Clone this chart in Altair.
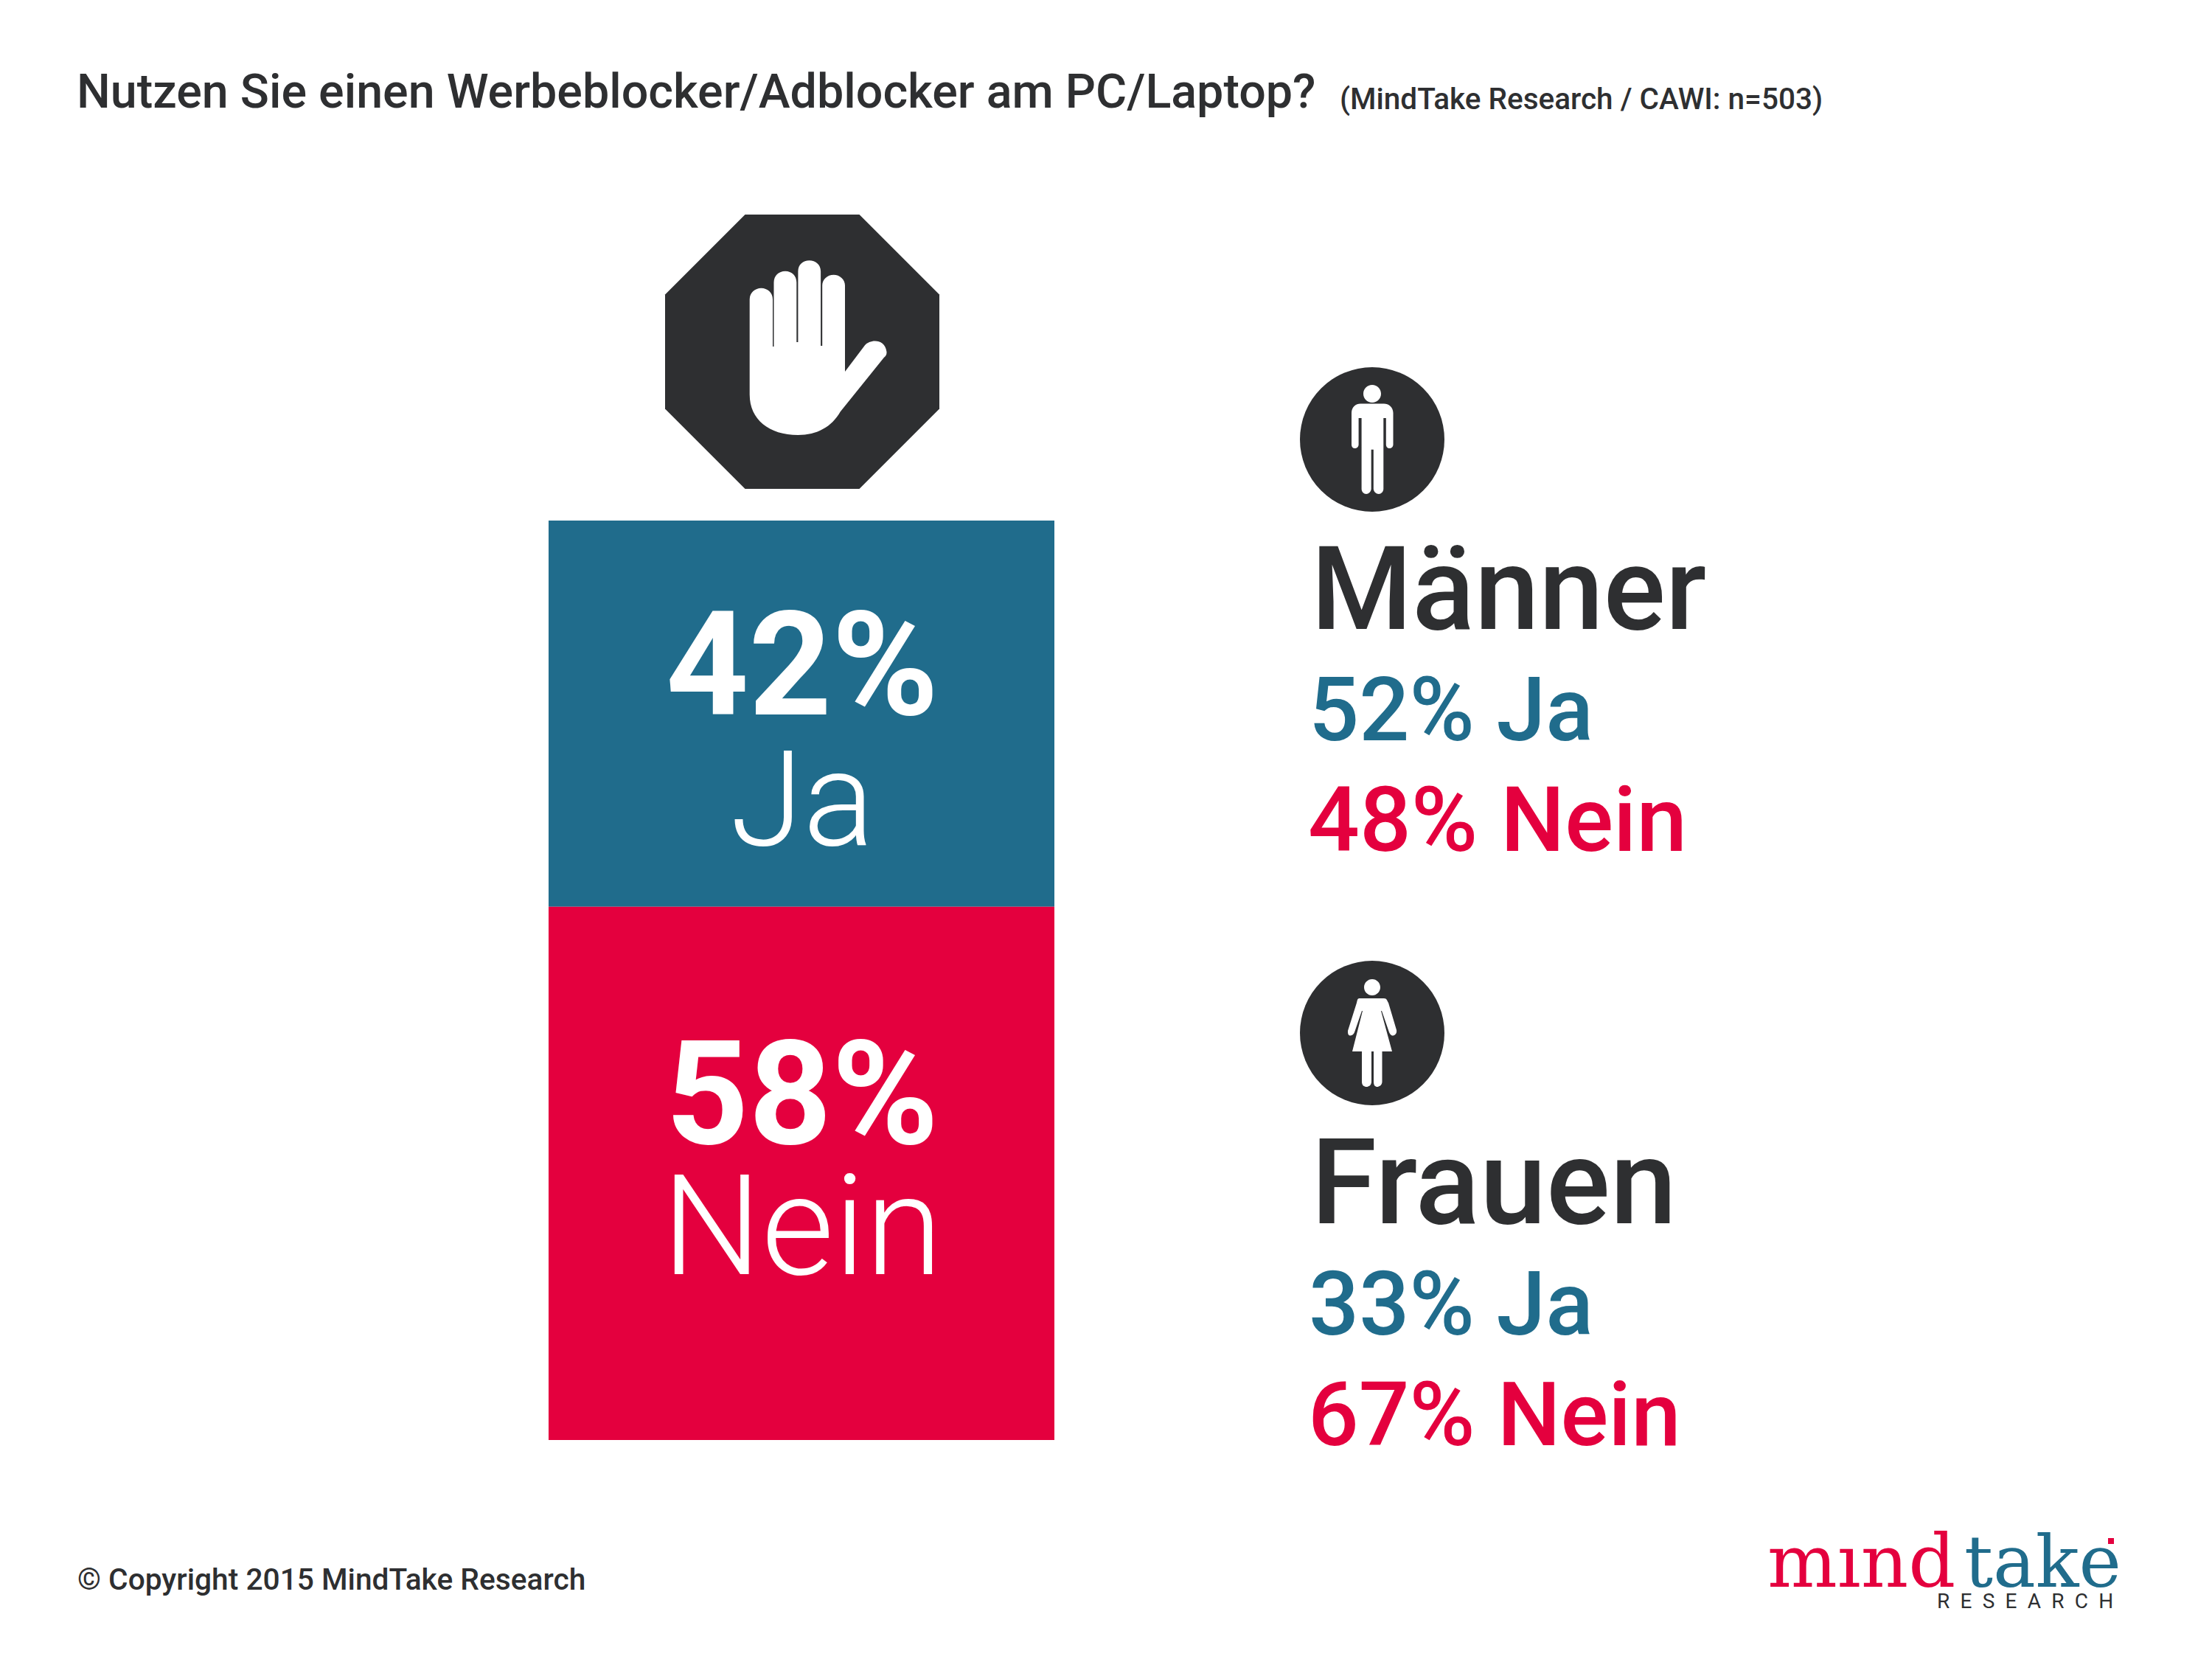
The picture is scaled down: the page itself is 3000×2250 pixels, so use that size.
import altair as alt
import pandas as pd

# --- values
answers = ["Ja", "Nein"]
overall = [42, 58]
groups = ["Männer", "Frauen"]
group_ja = [52, 33]
group_nein = [48, 67]
title_text = "Nutzen Sie einen Werbeblocker/Adblocker am PC/Laptop?"
source_text = "(MindTake Research / CAWI: n=503)"
footer_text = "© Copyright 2015 MindTake Research"

TEAL = "#206C8C"
RED = "#E4003E"
DARK = "#2E2F31"
FONT = "Roboto"
M = 8  # page margin


def text(t, x, y, size, color=DARK, weight=400, align="left", font=FONT):
    return alt.Chart(pd.DataFrame({"t": [t]})).mark_text(
        font=font, fontSize=size, fontWeight=weight, color=color,
        align=align, baseline="alphabetic",
    ).encode(x=alt.value(x - M), y=alt.value(y - M), text="t:N")


def icon(shape, x, y, color, size=4):
    # size 4 makes one path unit one pixel
    return alt.Chart(pd.DataFrame({"a": [0]})).mark_point(
        shape=shape, size=size, filled=True, opacity=1, color=color, strokeWidth=0,
    ).encode(x=alt.value(x - M), y=alt.value(y - M))


OCTAGON = "M -77.5 -186 L 77.5 -186 L 186 -77.5 L 186 77.5 L 77.5 186 L -77.5 186 L -186 77.5 L -186 -77.5 Z"
HAND = ("M -71.3 56 L -71.3 -73 C -71.3 -82 -64 -88.3 -55.6 -88.3 C -47 -88.3 -40 -82 -40 -73 L -40 -9 L -38.5 -9 "
        "L -38.5 -96 C -38.5 -105 -32 -111.3 -23 -111.3 C -14 -111.3 -7.7 -105 -7.7 -96 L -7.7 -15 L -5.6 -15 "
        "L -5.6 -111 C -5.6 -120 1 -125.7 9.7 -125.7 C 18 -125.7 25.1 -120 25.1 -111 L 25.1 -10 L 27.2 -10 "
        "L 27.2 -92 C 27.2 -100 34 -106.3 42.6 -106.3 C 51 -106.3 58 -100 58 -92 L 58 25 L 85 -10.7 "
        "C 92 -19 112 -20 114.4 -2.3 C 115 2 113 4 110.8 6 L 51.8 79.3 C 40 100 20 111 -5.6 111 "
        "C -45 111 -71.3 90 -71.3 56 Z")
MAN = ("M -28 -36 C -28 -44 -22 -48.5 -16 -48.5 L 16 -48.5 C 22 -48.5 28.5 -44 28.5 -36 L 28.5 7 "
       "C 28.5 10 26 12 23.5 12 C 21 12 18.8 10 18.8 7 L 18.8 -29 L 15.3 -29 L 15.3 67 C 15.3 71 12 74 9 74 "
       "C 5.5 74 2 71 1.8 67 L 1.8 13.8 L -1.3 13.8 L -1.3 67 C -1.5 71 -5 74 -8 74 C -11.5 74 -14.4 71 -14.4 67 "
       "L -14.4 -29 L -18.4 -29 L -18.4 7 C -18.4 10 -21 12 -23.4 12 C -26 12 -28 10 -28 7 Z "
       "M -12 -62 A 12 12 0 1 1 12 -62 A 12 12 0 1 1 -12 -62 Z")
WOMAN = ("M -17 -47 L 16 -47 C 20 -47 20 -44 22 -41 L 33 -4 C 34 1 30 4 27 3.5 C 25 3 24 1 23 -1 L 13 -30 L 12 -30 "
         "L 27 25 L 13.5 25 L 13.5 66 C 13.5 71 9 73 7 73 C 4 73 2 71 2 66 L 2 25 L -1 25 L -1 66 "
         "C -1 71 -5 73 -7.5 73 C -11 73 -14 71 -14 66 L -14 25 L -27 25 L -13 -30 L -14 -30 L -24 -1 "
         "C -25 2 -28 3.5 -30 3.5 C -33 3 -33 0 -33 -3 L -21 -41 C -20 -45 -20 -47 -17 -47 Z "
         "M -11 -62 A 11 11 0 1 1 11 -62 A 11 11 0 1 1 -11 -62 Z")

ends = pd.Series(overall).cumsum()
bars = pd.DataFrame({"answer": answers, "start": ends - pd.Series(overall), "end": ends})
bar = alt.Chart(bars).mark_rect().encode(
    x=alt.value(744 - M),
    x2=alt.value(1430 - M),
    y=alt.Y("start:Q", axis=None,
            scale=alt.Scale(domain=[0, 100], range=[706 - M, 1953 - M])),
    y2="end:Q",
    color=alt.Color("answer:N", legend=None,
                    scale=alt.Scale(domain=answers, range=[TEAL, RED])),
)

layers = [bar]
layers += [
    text(title_text, 104, 146, 64.6, DARK, 500),
    text(source_text, 1817, 148, 40.5, DARK, 500),
    text(footer_text, 105, 2156, 40.7, DARK, 500),
    icon(OCTAGON, 1088, 477, DARK),
    icon(HAND, 1088, 479, "white"),
    text(f"{overall[0]}%", 1088, 969, 196, "white", 700, "center"),
    text(answers[0], 1088, 1146, 180, "white", 300, "center"),
    text(f"{overall[1]}%", 1088, 1551, 196, "white", 700, "center"),
    text(answers[1], 1088, 1728, 190, "white", 300, "center"),
]

for i, (shape, cy, base, gsize) in enumerate([(MAN, 596, 853, 157), (WOMAN, 1401, 1659, 162)]):
    layers += [
        alt.Chart(pd.DataFrame({"a": [0]})).mark_point(
            shape="circle", size=196 ** 2, filled=True, opacity=1, color=DARK, strokeWidth=0,
        ).encode(x=alt.value(1861 - M), y=alt.value(cy - M)),
        icon(shape, 1861, cy, "white"),
        text(groups[i], 1778, base, gsize, DARK, 500),
        text(f"{group_ja[i]}% {answers[0]}", 1775, base + 151, 120, TEAL, 500),
        text(f"{group_nein[i]}% {answers[1]}", 1774, base + 301, 123 if i == 0 else 121, RED, 500),
    ]

# logo
layers += [
    text("mınd", 2397, 2152, 100, RED, 400, "left", "DejaVu Serif"),
    text("take", 2664, 2152, 97, TEAL, 400, "left", "DejaVu Serif"),
    alt.Chart(pd.DataFrame({"a": [0]})).mark_point(
        shape="square", size=64, filled=True, opacity=1, color=RED, strokeWidth=0,
    ).encode(x=alt.value(2863 - M), y=alt.value(2090 - M)),
    text("R\u2002E\u2002S\u2002E\u2002A\u2002R\u2002C\u2002H", 2627, 2181, 28, DARK, 400),
]

chart = alt.layer(*layers).properties(
    width=2984, height=2200, padding=0, autosize="none", background="white",
).configure_view(strokeWidth=0)

chart.save("out.html", embed_options={"renderer": "svg", "actions": False})
